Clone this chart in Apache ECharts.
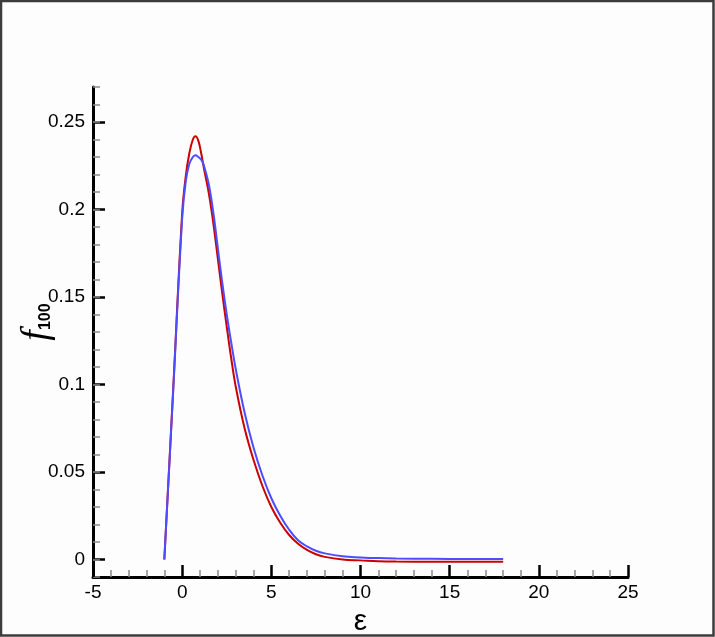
<!DOCTYPE html>
<html>
<head>
<meta charset="utf-8">
<script src="https://cdn.jsdelivr.net/npm/echarts@6/dist/echarts.min.js"></script>
<style>
	html, body { margin: 0; padding: 0; background: #fdfdfd; }
	#chart { width: 715px; height: 637px; }
</style>
</head>
<body>
<div id="chart"></div>
<script>
// epsilon grid (x) and the two f_100 curves
const epsRed = [-1, -0.5, 0, 0.2, 0.4, 0.6, 0.75, 0.9, 1.05, 1.25, 1.5, 1.75, 2, 2.25, 2.5, 2.75, 3, 3.5, 4, 4.5, 5, 5.5, 6, 6.5, 7, 7.5, 8, 9, 10, 11, 12, 14, 16, 18]
const fRed = [0, 0.098, 0.198, 0.219, 0.232, 0.240, 0.2418, 0.2395, 0.233, 0.222, 0.209, 0.192, 0.172, 0.152, 0.133, 0.115, 0.099, 0.075, 0.057, 0.042, 0.030, 0.021, 0.014, 0.009, 0.0055, 0.003, 0.0015, 0.0, -0.0005, -0.001, -0.0012, -0.0013, -0.0013, -0.0013]

const epsBlue = [-1, -0.5, 0, 0.2, 0.4, 0.6, 0.75, 0.9, 1.1, 1.25, 1.5, 1.75, 2, 2.25, 2.5, 2.75, 3, 3.5, 4, 4.5, 5, 5.5, 6, 6.5, 7, 7.5, 8, 9, 10, 11, 12, 14, 16, 18]
const fBlue = [0, 0.097, 0.195, 0.216, 0.226, 0.230, 0.231, 0.230, 0.228, 0.224, 0.214, 0.198, 0.178, 0.158, 0.140, 0.124, 0.109, 0.084, 0.064, 0.048, 0.035, 0.025, 0.017, 0.011, 0.0075, 0.005, 0.0035, 0.0018, 0.0012, 0.0008, 0.0006, 0.0004, 0.0003, 0.0003]

// major y ticks / labels
const yMajor = [0, 0.05, 0.1, 0.15, 0.2, 0.25]

const FONT = 'Liberation Sans'

const chart = echarts.init(document.getElementById('chart'))

const option = {
	backgroundColor: '#fdfdfd',
	animation: false,
	graphic: [
		{
			type: 'rect',
			shape: { x: 1, y: 1, width: 712.5, height: 634.5 },
			style: { fill: 'none', stroke: '#3c3c3c', lineWidth: 2.5 },
			silent: true,
		},
		{
			// y axis title f_100, rotated to read bottom to top
			type: 'text',
			x: 54,
			y: 322,
			rotation: Math.PI / 2,
			silent: true,
			style: {
				text: '{f|f}{s|100}',
				align: 'center',
				verticalAlign: 'bottom',
				rich: {
					f: { fontFamily: 'Liberation Serif', fontStyle: 'italic', fontSize: 38, lineHeight: 34, fill: '#000', verticalAlign: 'middle' },
					s: { fontFamily: FONT, fontWeight: 'bold', fontSize: 16, lineHeight: 16, fill: '#000', verticalAlign: 'bottom' },
				},
			},
		},
	],
	grid: { left: 93, right: 87, top: 87, bottom: 60, containLabel: false, outerBoundsMode: 'none' },
	xAxis: {
		type: 'value',
		min: -5,
		max: 25,
		interval: 5,
		name: 'ε',
		nameLocation: 'middle',
		nameGap: 23,
		nameTextStyle: { fontFamily: FONT, fontSize: 30, color: '#000' },
		axisLine: { onZero: false, lineStyle: { color: '#000', width: 3 } },
		axisTick: { inside: true, length: 12, lineStyle: { color: '#000', width: 2.5 } },
		minorTick: { show: true, splitNumber: 5, length: 7, lineStyle: { color: '#8a8a8a', width: 1.5 } },
		axisLabel: { fontFamily: FONT, fontSize: 19, color: '#000', margin: 6 },
		splitLine: { show: false },
	},
	yAxis: [
		{
			type: 'value',
			min: -0.01,
			max: 0.27,
			axisLine: { show: true, onZero: false, lineStyle: { color: '#000', width: 3 } },
			axisTick: { inside: true, length: 12, customValues: yMajor, lineStyle: { color: '#000', width: 2.5 } },
			axisLabel: { customValues: yMajor, fontFamily: FONT, fontSize: 19, color: '#000', margin: 8 },
			splitLine: { show: false },
		},
		{
			// minor ticks only
			type: 'value',
			position: 'left',
			min: -0.01,
			max: 0.27,
			interval: 0.01,
			axisLine: { show: false, onZero: false },
			axisTick: { inside: true, length: 7, lineStyle: { color: '#8a8a8a', width: 1.5 } },
			axisLabel: { show: false },
			splitLine: { show: false },
		},
	],
	series: [
		{
			name: 'red',
			type: 'line',
			data: epsRed.map((x, i) => [x, fRed[i]]),
			showSymbol: false,
			smooth: 0.4,
			lineStyle: { color: '#cc0000', width: 2 },
			z: 2,
		},
		{
			name: 'blue',
			type: 'line',
			data: epsBlue.map((x, i) => [x, fBlue[i]]),
			showSymbol: false,
			smooth: 0.4,
			lineStyle: { color: '#4d4dff', width: 2 },
			z: 3,
		},
	],
}

chart.setOption(option)
</script>
</body>
</html>
